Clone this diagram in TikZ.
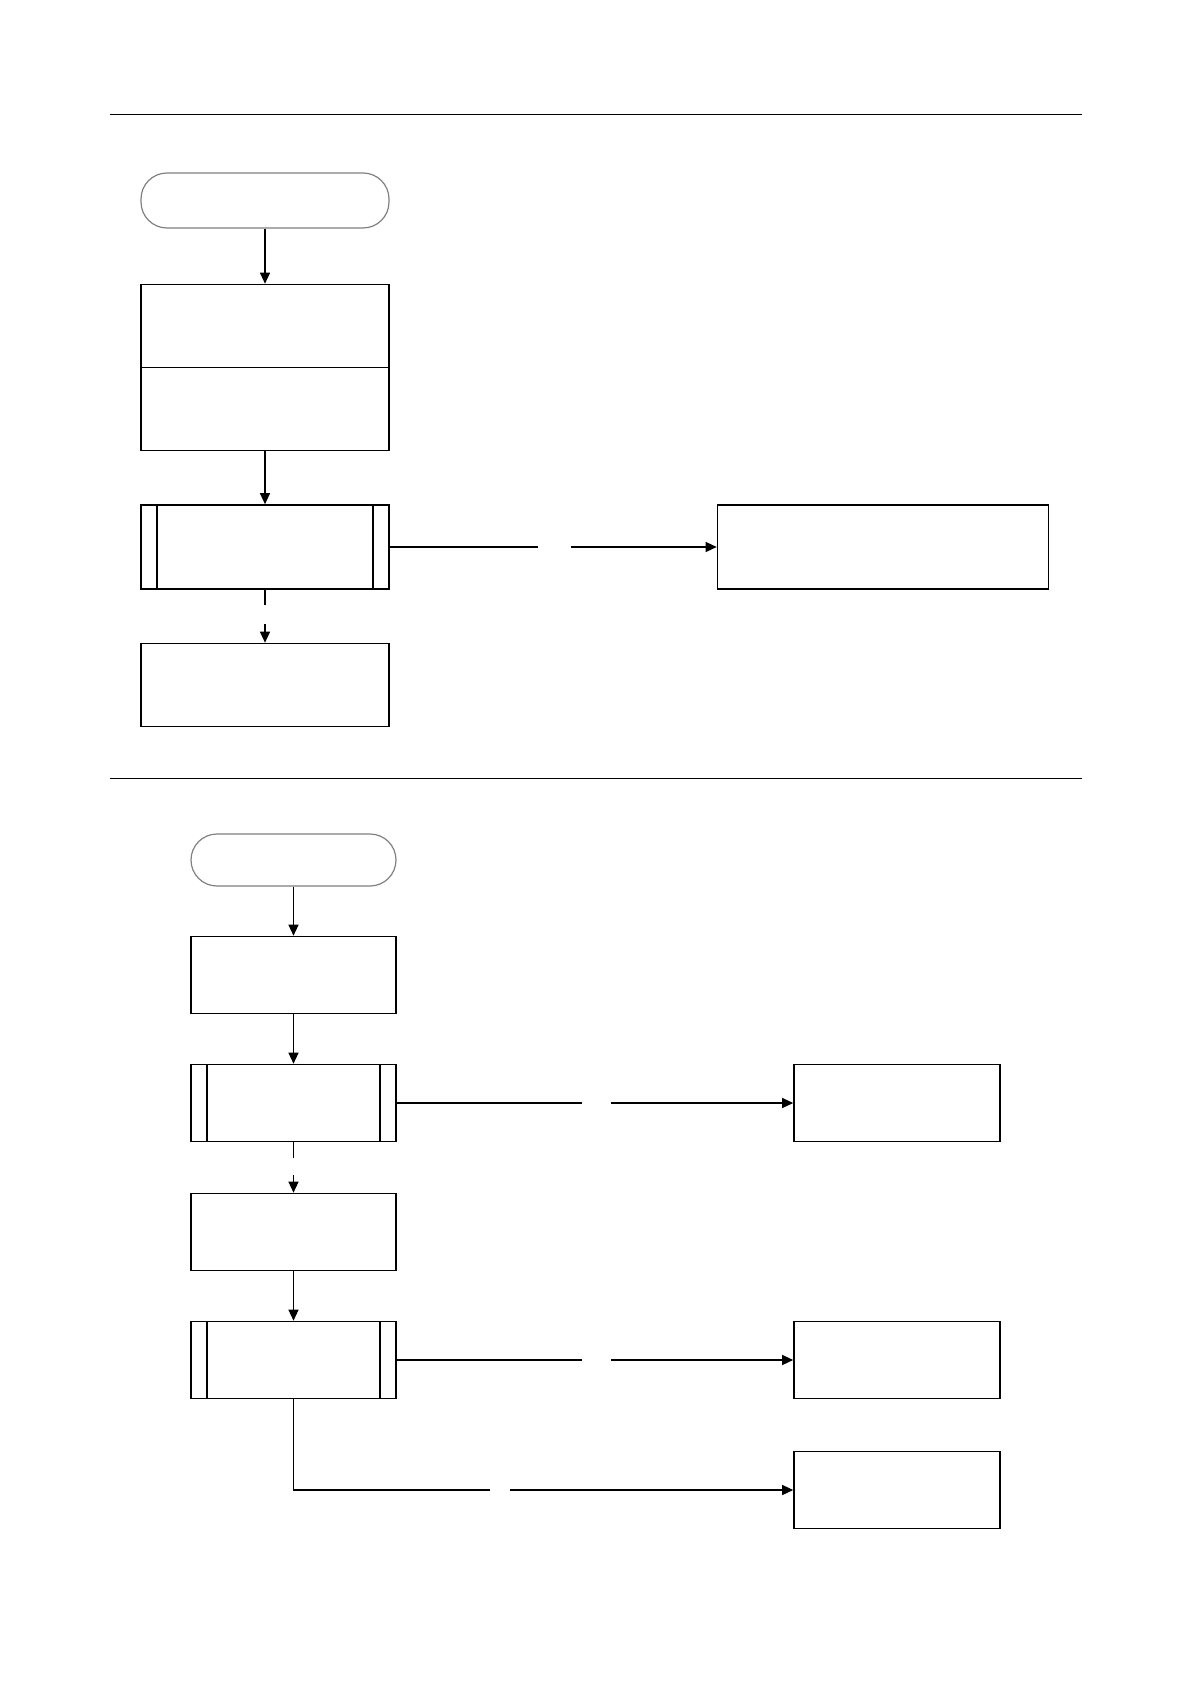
\documentclass[tikz,border=0pt]{standalone}
\usepackage{xcolor}
\usepackage{tikz}
\usetikzlibrary{arrows.meta}

\begin{document}
\begin{tikzpicture}[x=0.5pt,y=-0.5pt,
	box/.style={draw=black, line width=0.8pt, rectangle, inner sep=0pt},
	terminal/.style={draw=gray, line width=0.6pt, rectangle, rounded corners=13pt, inner sep=0pt},
	subbox/.style={box, path picture={
		\draw[line width=0.6pt] ([xshift=8pt]path picture bounding box.north west) -- ([xshift=8pt]path picture bounding box.south west);
		\draw[line width=0.6pt] ([xshift=-8pt]path picture bounding box.north east) -- ([xshift=-8pt]path picture bounding box.south east);}},
	flow/.style={line width=0.6pt},
	arr/.style={flow, -{Triangle[width=5pt,length=5.5pt]}}]
	\useasboundingbox (0,0) rectangle (1191,1684);
	\draw[line width=0.5pt] (110,115) -- (1082,115);
	\draw[line width=0.5pt] (110,778) -- (1082,778);
	% first part
	\node[terminal, minimum width=124pt, minimum height=27.5pt] (start1) at (265,200.5) {};
	\node[box, minimum width=124pt, minimum height=83pt] (init1) at (265,367.5) {};
	\draw[line width=0.8pt] (init1.west) -- (init1.east);
	\node[subbox, minimum width=124pt, minimum height=42pt] (call1) at (265,547) {};
	\node[box, minimum width=165.5pt, minimum height=42pt] (res1) at (883,547) {};
	\node[box, minimum width=124pt, minimum height=41.5pt] (next1) at (265,685) {};
	\coordinate (gap1a) at (538,547);
	\coordinate (gap1b) at (571,547);
	\coordinate (gap2a) at (265,605);
	\coordinate (gap2b) at (265,624);
	\draw[arr] (start1.south) -- (init1.north);
	\draw[arr] (init1.south) -- (call1.north);
	\draw[flow] (call1.east) -- (gap1a);
	\draw[arr] (gap1b) -- (res1.west);
	\draw[flow] (call1.south) -- (gap2a);
	\draw[arr] (gap2b) -- (next1.north);
	% second part
	\node[terminal, minimum width=102.5pt, minimum height=26pt] (start2) at (293.5,860) {};
	\node[box, minimum width=102.5pt, minimum height=38.5pt] (init2) at (293.5,975) {};
	\node[subbox, minimum width=102.5pt, minimum height=38.5pt] (call2) at (293.5,1103) {};
	\node[box, minimum width=103pt, minimum height=38.5pt] (res2) at (897,1103) {};
	\node[box, minimum width=102.5pt, minimum height=38.5pt] (next2) at (293.5,1232) {};
	\node[subbox, minimum width=102.5pt, minimum height=38.5pt] (call3) at (293.5,1360) {};
	\node[box, minimum width=103pt, minimum height=38.5pt] (res3) at (897,1360) {};
	\node[box, minimum width=103pt, minimum height=38.5pt] (res4) at (897,1490) {};
	\coordinate (gap3a) at (582,1103);
	\coordinate (gap3b) at (611,1103);
	\coordinate (gap4a) at (293.5,1158);
	\coordinate (gap4b) at (293.5,1175);
	\coordinate (gap5a) at (582,1360);
	\coordinate (gap5b) at (611,1360);
	\coordinate (gap6a) at (490,1490);
	\coordinate (gap6b) at (510,1490);
	\draw[arr] (start2.south) -- (init2.north);
	\draw[arr] (init2.south) -- (call2.north);
	\draw[flow] (call2.east) -- (gap3a);
	\draw[arr] (gap3b) -- (res2.west);
	\draw[flow] (call2.south) -- (gap4a);
	\draw[arr] (gap4b) -- (next2.north);
	\draw[arr] (next2.south) -- (call3.north);
	\draw[flow] (call3.east) -- (gap5a);
	\draw[arr] (gap5b) -- (res3.west);
	\draw[flow] (call3.south) |- (gap6a);
	\draw[arr] (gap6b) -- (res4.west);
\end{tikzpicture}
\end{document}
